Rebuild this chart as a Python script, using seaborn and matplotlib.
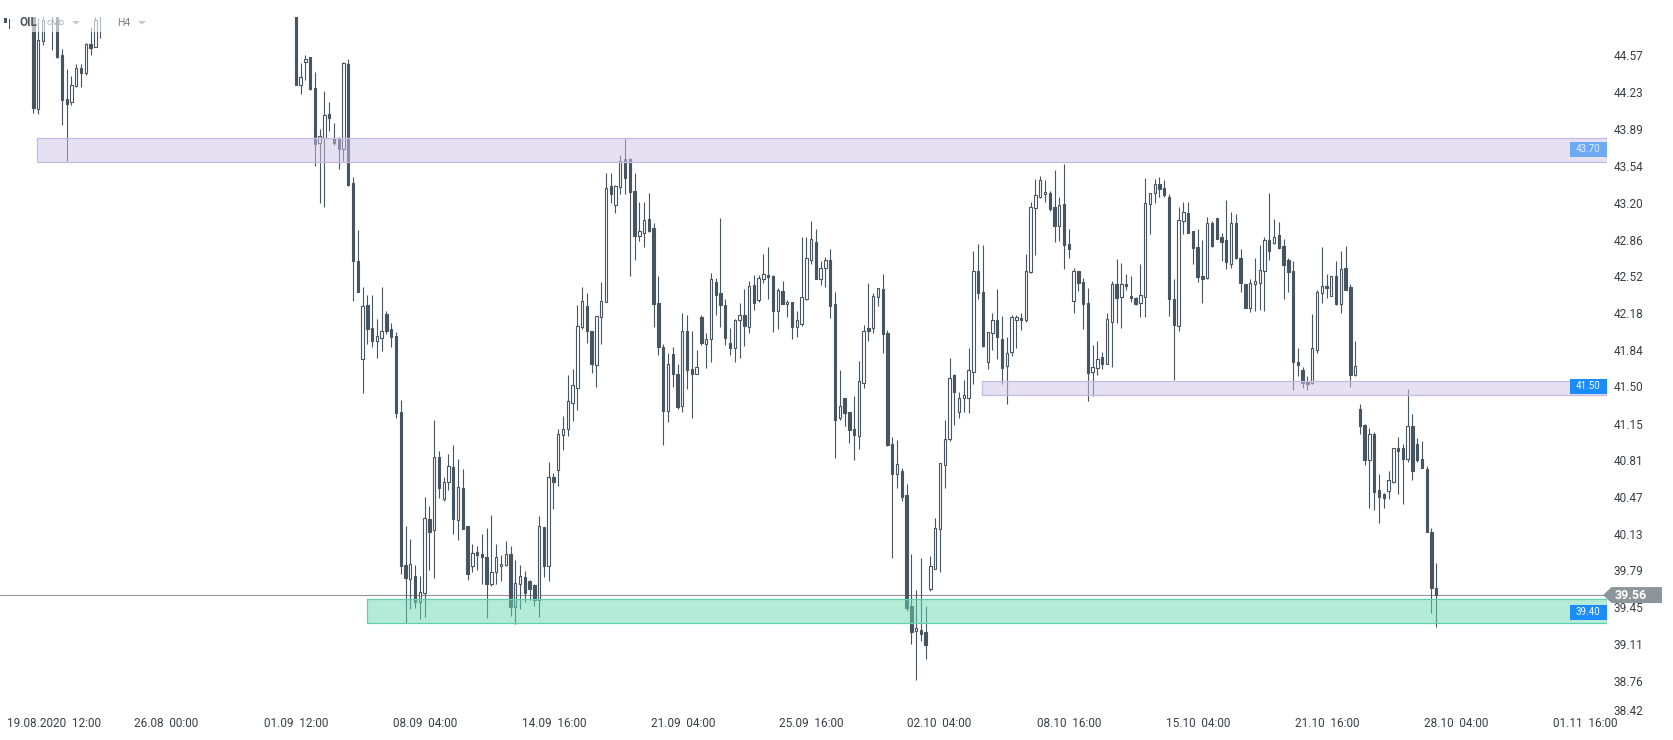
import numpy as np
import pandas as pd
import matplotlib
matplotlib.use("Agg")
import matplotlib.pyplot as plt
import matplotlib.transforms as mtransforms
from matplotlib.patches import Rectangle, Polygon
import seaborn as sns

# OIL, H4 candles, oldest first (x = candle number)
opens = [
    44.96, 44.07, 44.70, 45.05, 45.20, 45.05, 44.57, 44.17, 44.14, 44.29,
    44.45, 44.41, 44.68, 44.65, 45.00, 45.15, 45.30, 45.42, 45.38, 45.55,
    45.61, 45.48, 45.52, 45.70, 45.66, 45.80, 45.74, 45.62, 45.58, 45.71,
    45.85, 45.93, 45.88, 45.76, 45.69, 45.81, 45.90, 45.84, 45.72, 45.65,
    45.58, 45.50, 45.62, 45.55, 45.43, 45.38, 45.47, 45.52, 45.40, 45.33,
    45.45, 45.37, 45.28, 45.35, 45.22,
    45.18, 44.30, 44.51, 44.56, 44.27,
    43.76, 43.80, 44.03, 43.79, 43.79, 43.70, 44.49, 43.39, 42.66, 41.75,
    42.25, 42.04, 41.92, 41.95, 42.17, 42.03, 41.97, 41.26, 39.84, 39.71,
    39.74, 39.50, 39.58, 40.27, 40.16, 40.84, 40.45, 40.61, 40.75, 40.26,
    40.55, 40.20, 39.83, 39.96, 39.94, 39.91, 39.66, 39.77, 39.83, 39.84,
    39.94, 39.45, 39.66, 39.73, 39.69, 39.65, 39.51, 40.19, 39.83, 40.66,
    40.72, 41.05, 41.10, 41.34, 41.48, 42.05, 42.24, 42.01, 41.70, 42.14,
    42.28, 43.36, 43.18, 43.35, 43.61, 43.61, 43.31, 42.89, 42.92, 43.05,
    42.97, 42.27, 41.86, 41.27, 41.80, 41.61, 41.32, 42.01, 41.66, 41.61,
    42.14, 41.89, 41.94, 42.47, 42.36, 42.25, 41.90, 41.85, 42.11, 42.16,
    42.05, 42.44, 42.30, 42.49, 42.53, 42.52, 42.20, 42.38, 42.26, 42.28,
    42.05, 42.08, 42.31, 42.67, 42.84, 42.49, 42.60, 42.67, 42.26, 41.20,
    41.39, 41.26, 41.10, 41.04, 41.53, 42.04, 42.04, 42.33, 42.40, 41.99,
    40.96, 40.68, 40.71, 40.49, 39.46, 39.23, 39.24, 39.22, 39.62, 39.80,
    40.17, 40.77, 41.01, 41.60, 41.26, 41.39, 41.39, 41.63, 42.57, 42.37,
    41.72, 41.99, 42.11, 41.94, 41.69, 41.82, 42.11, 42.13, 42.11, 42.56,
    43.15, 43.26, 43.28, 43.29, 43.16, 42.99, 43.19, 42.82, 42.29, 42.57,
    42.47, 42.27, 41.63, 41.67, 41.77, 41.71, 42.10, 42.45, 42.33, 42.45,
    42.34, 42.32, 42.27, 42.33, 43.19, 43.29, 43.38, 43.34, 43.26, 42.31,
    42.06, 43.03, 43.11, 42.94, 42.79, 42.52, 42.50, 43.01, 43.06, 42.88,
    42.86, 42.63, 43.01, 42.69, 42.45, 42.23, 42.45, 42.46, 42.57, 42.86,
    42.83, 42.90, 42.80, 42.67, 42.57, 41.72, 41.65, 41.54, 41.53, 41.84,
    42.36, 42.43, 42.34, 42.52, 42.26, 42.60, 42.42, 41.60, 41.29, 41.14,
    40.81, 41.06, 40.54, 40.50, 40.53, 40.61, 40.93, 40.93, 40.82, 41.13,
    40.96, 40.82, 40.73, 40.15, 39.63,
]
highs = [
    45.02, 44.92, 44.95, 45.30, 45.28, 45.10, 44.63, 44.44, 44.38, 44.49,
    44.49, 44.69, 44.83, 44.93, 45.25, 45.36, 45.49, 45.47, 45.60, 45.68,
    45.66, 45.58, 45.76, 45.75, 45.86, 45.85, 45.79, 45.68, 45.77, 45.90,
    45.99, 45.98, 45.92, 45.80, 45.86, 45.96, 45.95, 45.89, 45.78, 45.71,
    45.63, 45.68, 45.66, 45.60, 45.48, 45.52, 45.58, 45.57, 45.45, 45.50,
    45.51, 45.42, 45.40, 45.39, 45.28,
    45.25, 44.50, 44.57, 44.56, 44.42,
    43.89, 44.24, 44.14, 43.94, 43.81, 44.51, 44.54, 43.44, 42.95, 42.42,
    42.35, 42.35, 42.12, 42.42, 42.20, 42.09, 42.00, 41.37, 40.20, 40.08,
    39.84, 39.74, 40.47, 40.39, 41.19, 40.90, 40.66, 40.87, 40.95, 40.82,
    40.73, 40.20, 40.03, 40.02, 40.13, 40.18, 40.30, 40.03, 39.93, 40.06,
    40.02, 39.89, 39.84, 39.78, 39.70, 39.66, 40.29, 40.19, 40.80, 40.69,
    41.10, 41.22, 41.60, 41.66, 42.25, 42.42, 42.36, 42.01, 42.15, 42.47,
    43.48, 43.48, 43.37, 43.65, 43.79, 43.62, 43.48, 43.21, 43.21, 43.29,
    43.01, 42.52, 41.89, 41.81, 41.86, 41.71, 42.18, 42.16, 42.01, 41.84,
    42.16, 41.99, 42.55, 42.50, 43.06, 42.31, 42.04, 42.12, 42.27, 42.40,
    42.48, 42.53, 42.53, 42.73, 42.79, 42.53, 42.41, 42.48, 42.30, 42.28,
    42.20, 42.88, 42.88, 43.03, 42.96, 42.66, 42.70, 42.77, 42.37, 41.65,
    41.39, 41.26, 41.41, 41.73, 42.07, 42.46, 42.36, 42.41, 42.54, 42.02,
    41.03, 41.00, 40.74, 40.59, 39.94, 39.61, 39.90, 39.46, 39.92, 40.28,
    40.79, 41.19, 41.76, 41.61, 41.45, 41.56, 41.85, 42.75, 42.82, 42.81,
    42.00, 42.18, 42.40, 42.15, 41.96, 42.16, 42.16, 42.18, 42.73, 43.21,
    43.42, 43.45, 43.41, 43.31, 43.51, 43.26, 43.56, 42.96, 42.60, 42.57,
    42.50, 42.41, 41.88, 41.92, 41.82, 42.18, 42.48, 42.68, 42.64, 42.54,
    42.52, 42.33, 42.63, 43.43, 43.29, 43.42, 43.44, 43.41, 43.28, 42.49,
    43.16, 43.21, 43.21, 42.94, 42.96, 42.86, 43.07, 43.03, 43.06, 42.92,
    43.23, 43.12, 43.10, 42.77, 42.45, 42.49, 42.69, 42.81, 42.88, 43.29,
    43.05, 43.02, 42.87, 42.69, 42.66, 41.85, 41.68, 41.59, 42.17, 42.39,
    42.79, 42.54, 42.52, 42.66, 42.75, 42.80, 42.45, 41.92, 41.33, 41.15,
    41.11, 41.07, 40.68, 40.51, 40.71, 40.93, 41.03, 40.96, 41.47, 41.24,
    41.02, 40.99, 40.76, 40.18, 39.86,
]
lows = [
    44.04, 44.03, 44.67, 44.98, 44.62, 44.55, 43.92, 43.59, 44.11, 44.28,
    44.28, 44.39, 44.57, 44.65, 44.73, 45.09, 45.24, 45.31, 45.33, 45.49,
    45.42, 45.41, 45.46, 45.60, 45.61, 45.68, 45.57, 45.52, 45.51, 45.65,
    45.79, 45.82, 45.70, 45.62, 45.63, 45.75, 45.78, 45.66, 45.58, 45.51,
    45.44, 45.45, 45.49, 45.37, 45.31, 45.32, 45.41, 45.34, 45.27, 45.28,
    45.30, 45.22, 45.21, 45.15, 45.10,
    44.30, 44.21, 44.34, 44.25, 43.54,
    43.20, 43.16, 43.87, 43.74, 43.52, 43.59, 43.36, 42.29, 42.37, 41.44,
    41.89, 41.86, 41.76, 41.83, 41.98, 41.86, 41.20, 39.76, 39.30, 39.43,
    39.44, 39.34, 39.36, 39.79, 39.72, 40.46, 40.43, 40.54, 40.13, 40.07,
    40.17, 39.70, 39.77, 39.79, 39.66, 39.35, 39.64, 39.66, 39.69, 39.83,
    39.37, 39.29, 39.43, 39.50, 39.51, 39.46, 39.36, 39.73, 39.69, 40.36,
    40.57, 40.91, 41.04, 41.18, 41.28, 42.03, 41.90, 41.62, 41.49, 41.89,
    42.28, 43.20, 43.11, 43.28, 43.28, 42.52, 42.67, 42.85, 42.79, 42.93,
    42.05, 41.79, 40.95, 41.17, 41.49, 41.29, 41.26, 41.47, 41.20, 41.61,
    41.88, 41.67, 41.72, 42.16, 42.05, 41.88, 41.79, 41.72, 41.76, 41.87,
    41.99, 42.21, 42.28, 42.46, 42.31, 42.00, 42.03, 42.26, 42.14, 41.94,
    41.96, 42.06, 42.30, 42.63, 42.49, 42.44, 42.42, 42.13, 40.83, 41.19,
    41.13, 40.97, 40.81, 40.92, 41.48, 41.92, 41.99, 42.24, 41.81, 40.94,
    39.90, 40.55, 40.43, 39.41, 39.11, 38.77, 39.13, 38.97, 39.60, 39.80,
    39.77, 40.55, 40.99, 41.14, 41.20, 41.26, 41.25, 41.52, 42.31, 41.86,
    41.66, 41.84, 41.75, 41.52, 41.33, 41.78, 41.85, 42.02, 42.10, 42.55,
    42.72, 43.25, 43.21, 43.13, 42.84, 42.85, 42.59, 42.69, 42.18, 42.38,
    42.03, 41.36, 41.41, 41.60, 41.66, 41.71, 41.68, 42.09, 42.04, 42.39,
    42.28, 42.25, 42.14, 42.14, 42.91, 43.20, 43.26, 43.26, 42.15, 41.56,
    42.01, 42.91, 42.92, 42.63, 42.47, 42.27, 42.49, 42.79, 42.87, 42.66,
    42.59, 42.60, 42.68, 42.37, 42.23, 42.19, 42.20, 42.21, 42.20, 42.67,
    42.82, 42.77, 42.31, 42.37, 41.46, 41.59, 41.48, 41.46, 41.52, 41.81,
    42.27, 42.32, 42.34, 42.25, 42.18, 42.39, 41.49, 41.59, 41.06, 40.77,
    40.37, 40.35, 40.23, 40.37, 40.45, 40.60, 40.50, 40.41, 40.80, 40.63,
    40.80, 40.74, 40.15, 39.39, 39.26,
]
closes = [
    44.08, 44.71, 44.90, 45.20, 45.05, 44.56, 44.16, 44.12, 44.30, 44.45,
    44.41, 44.68, 44.64, 44.90, 45.15, 45.30, 45.42, 45.38, 45.55, 45.61,
    45.48, 45.52, 45.70, 45.66, 45.80, 45.74, 45.62, 45.58, 45.71, 45.85,
    45.93, 45.88, 45.76, 45.69, 45.81, 45.90, 45.84, 45.72, 45.65, 45.58,
    45.50, 45.62, 45.55, 45.43, 45.38, 45.47, 45.52, 45.40, 45.33, 45.45,
    45.37, 45.28, 45.35, 45.22, 45.16,
    44.30, 44.37, 44.54, 44.26, 43.75,
    43.82, 44.02, 43.99, 43.76, 43.70, 44.50, 43.37, 42.66, 42.37, 42.24,
    42.03, 41.92, 41.97, 42.01, 42.01, 41.96, 41.25, 39.83, 39.72, 39.85,
    39.50, 39.59, 40.28, 40.15, 40.84, 40.55, 40.61, 40.76, 40.27, 40.56,
    40.17, 39.76, 39.95, 39.93, 39.91, 39.66, 39.77, 39.91, 39.85, 39.94,
    39.45, 39.67, 39.74, 39.58, 39.62, 39.51, 40.20, 39.83, 40.66, 40.61,
    41.06, 41.10, 41.36, 41.51, 42.06, 42.29, 42.01, 41.71, 42.15, 42.29,
    43.34, 43.28, 43.36, 43.59, 43.43, 43.30, 42.89, 42.94, 43.04, 42.94,
    42.26, 41.86, 41.27, 41.71, 41.61, 41.31, 42.01, 41.65, 41.61, 41.68,
    41.90, 41.94, 42.49, 42.35, 42.25, 41.95, 41.85, 42.11, 42.16, 42.06,
    42.43, 42.27, 42.50, 42.54, 42.51, 42.20, 42.39, 42.26, 42.28, 42.05,
    42.11, 42.33, 42.69, 42.87, 42.49, 42.60, 42.67, 42.24, 41.19, 41.32,
    41.25, 41.09, 41.05, 41.55, 42.01, 42.01, 42.34, 42.41, 41.98, 40.95,
    40.68, 40.78, 40.47, 39.44, 39.22, 39.25, 39.20, 39.10, 39.83, 40.18,
    40.79, 41.01, 41.58, 41.45, 41.39, 41.42, 41.65, 42.57, 42.36, 41.87,
    42.00, 42.11, 41.96, 41.67, 41.81, 42.14, 42.14, 42.11, 42.57, 43.16,
    43.27, 43.41, 43.30, 43.14, 42.99, 43.18, 42.81, 42.77, 42.57, 42.46,
    42.26, 41.62, 41.68, 41.75, 41.71, 42.12, 42.45, 42.32, 42.45, 42.43,
    42.32, 42.26, 42.35, 43.20, 43.29, 43.38, 43.33, 43.27, 42.31, 42.07,
    43.04, 43.12, 42.92, 42.78, 42.51, 42.49, 43.01, 42.80, 42.87, 42.84,
    42.65, 43.01, 42.69, 42.46, 42.23, 42.46, 42.48, 42.58, 42.86, 42.75,
    42.88, 42.78, 42.62, 42.56, 41.72, 41.70, 41.53, 41.52, 41.85, 42.37,
    42.43, 42.41, 42.52, 42.26, 42.59, 42.39, 41.60, 41.69, 41.13, 40.81,
    41.06, 40.52, 40.47, 40.46, 40.63, 40.93, 40.90, 40.82, 41.13, 40.71,
    40.81, 40.74, 40.15, 39.63, 39.56,
]

price_ticks = [44.57, 44.23, 43.89, 43.54, 43.20, 42.86, 42.52, 42.18, 41.84, 41.50,
               41.15, 40.81, 40.47, 40.13, 39.79, 39.45, 39.11, 38.76, 38.42]
time_pos = [4.4, 27.8, 55.0, 82.2, 109.1, 136.1, 163.1, 189.8, 217.0, 244.2, 271.1, 298.1, 325.3]
time_labels = ["19.08.2020  12:00", "26.08  00:00", "01.09  12:00", "08.09  04:00",
               "14.09  16:00", "21.09  04:00", "25.09  16:00", "02.10  04:00",
               "08.10  16:00", "15.10  04:00", "21.10  16:00", "28.10  04:00", "01.11  16:00"]

# support / resistance zones
zone_start = [0.8, 198.8, 70.0]
zone_low = [43.58, 41.42, 39.30]
zone_high = [43.80, 41.55, 39.52]
zone_value = [43.70, 41.50, 39.40]
zone_fill = ["#cfc3e9", "#cfc3e9", "#69d9b3"]
zone_edge = ["#c6b9e4", "#c6b9e4", "#62d0aa"]
tag_fill = ["#6eaaf3", "#1a8cfb", "#1a8cfb"]
tag_text = ["#e4eefc", "white", "white"]

last_price = 39.56

assert len(opens) == len(highs) == len(lows) == len(closes) == 295

CANDLE = "#46555f"
X_RIGHT = 329.7

sns.set_theme(style="white")
plt.rcParams["font.family"] = ["Roboto", "DejaVu Sans"]

df = pd.DataFrame({"open": opens, "high": highs, "low": lows, "close": closes})
df["x"] = np.arange(len(df))
up = df["close"] >= df["open"]
body_lo = df[["open", "close"]].min(axis=1)
body_h = (df["close"] - df["open"]).abs().clip(lower=0.012)

fig = plt.figure(figsize=(16.74, 7.40), dpi=100)
fig.patch.set_facecolor("white")
ax = fig.add_axes([0, 0, 1607 / 1674, 723.3 / 740])
ax.set_facecolor("white")

ax.axhline(last_price, color="#8d969c", lw=0.8, zorder=1.5)

ax.vlines(df["x"], df["low"], df["high"], color=CANDLE, lw=0.8, zorder=2)
ax.bar(df["x"][up], body_h[up], bottom=body_lo[up], width=0.5,
       color="white", edgecolor=CANDLE, linewidth=0.8, zorder=3)
ax.bar(df["x"][~up], body_h[~up], bottom=body_lo[~up], width=0.5,
       color=CANDLE, edgecolor=CANDLE, linewidth=0.8, zorder=3)

for x0, lo, hi, val, fc, ec, tf, tc in zip(zone_start, zone_low, zone_high, zone_value,
                                            zone_fill, zone_edge, tag_fill, tag_text):
    ax.fill_between([x0, X_RIGHT], lo, hi, color=fc, alpha=0.5, lw=0, zorder=4)
    ax.add_patch(Rectangle((x0, lo), X_RIGHT - x0, hi - lo, fill=False,
                           edgecolor=ec, lw=0.9, zorder=4.1))
    ax.add_patch(Rectangle((322.0, val - 0.07), X_RIGHT - 322.0, 0.14,
                           facecolor=tf, edgecolor="none", zorder=6))
    ax.text(325.85, val, f"{val:.2f}", ha="center", va="center",
            fontsize=7, color=tc, zorder=7)

# last price marker on the scale
trans = mtransforms.blended_transform_factory(ax.transAxes, ax.transData)
hh = 8 / 107.7
ax.add_patch(Polygon([(0.9975, last_price), (1.0028, last_price + hh), (1.0342, last_price + hh),
                      (1.0342, last_price - hh), (1.0028, last_price - hh)],
                     closed=True, transform=trans, facecolor="#8c959a",
                     edgecolor="none", clip_on=False, zorder=8))
ax.text(1.0047, last_price, f"{last_price:.2f}", transform=trans, ha="left", va="center",
        fontsize=9, fontweight="bold", color="white", clip_on=False, zorder=9)

ax.set_xlim(-6.98, 329.78)
ax.set_ylim(45.0853 - 740 / 107.7, 44.930)
ax.yaxis.tick_right()
# the lowest scale label sits a few pixels higher so it stays inside the frame
ax.set_yticks(price_ticks[:-1])
ax.set_yticklabels([f"{v:.2f}" for v in price_ticks[:-1]])
lift = mtransforms.ScaledTranslation(0, 6 / 100, fig.dpi_scale_trans)
ax.text(1.0, price_ticks[-1], f"{price_ticks[-1]:.2f}", transform=trans + lift,
        ha="left", va="center", fontsize=8.5, color="#373f45", clip_on=False)
ax.texts[-1].set_x(1.0 + 7 / 1607)
ax.set_xticks(time_pos)
ax.set_xticklabels(time_labels)
ax.tick_params(axis="y", length=0, pad=5, labelsize=8.5, labelcolor="#373f45")
ax.tick_params(axis="x", length=0, pad=-16.5, labelsize=8.5, labelcolor="#373f45")
ax.grid(False)
sns.despine(ax=ax, left=True, bottom=True, right=True, top=True)

# header block (semi transparent over the candles)
fig.add_artist(Rectangle((0, 1 - 32 / 740), 150 / 1674, 16 / 740, transform=fig.transFigure,
                         facecolor="white", alpha=0.6, edgecolor="none", zorder=5))
fig.add_artist(Rectangle((0, 1 - 16.7 / 740), 1, 16.7 / 740, transform=fig.transFigure,
                         facecolor="white", edgecolor="none", zorder=5))
fig.add_artist(Rectangle((4 / 1674, 1 - 23 / 740), 3 / 1674, 5 / 740, transform=fig.transFigure,
                         facecolor=CANDLE, edgecolor="none", zorder=6))
fig.add_artist(Rectangle((9 / 1674, 1 - 29 / 740), 1 / 1674, 10 / 740, transform=fig.transFigure,
                         facecolor=CANDLE, edgecolor="none", zorder=6))
fig.text(20 / 1674, 1 - 23 / 740, "OIL", ha="left", va="center", fontsize=8.5,
         fontweight="bold", color="#4b565d", zorder=7)
fig.text(47 / 1674, 1 - 23 / 740, "CMD", ha="left", va="center", fontsize=6,
         color="#a3adb3", zorder=7)
fig.text(117 / 1674, 1 - 23 / 740, "H4", ha="left", va="center", fontsize=7.5,
         color="#76818a", zorder=7)
for tx in (72, 138):
    fig.add_artist(Polygon([(tx / 1674, 1 - 21 / 740), ((tx + 8) / 1674, 1 - 21 / 740),
                            ((tx + 4) / 1674, 1 - 24.5 / 740)], closed=True,
                           transform=fig.transFigure, facecolor="#c4c9cd",
                           edgecolor="none", zorder=7))

fig.savefig("out.png", dpi=100, facecolor="white")
